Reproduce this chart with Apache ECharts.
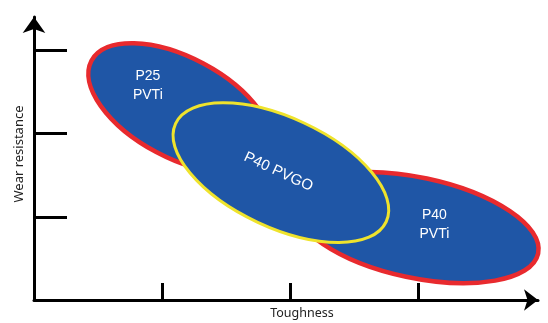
<!DOCTYPE html>
<html>
<head>
<meta charset="utf-8">
<script src="https://cdn.jsdelivr.net/npm/echarts@6.0.0/dist/echarts.min.js"></script>
<style>
  html, body { margin: 0; padding: 0; background: #fff; }
  #chart { width: 548px; height: 323px; }
</style>
</head>
<body>
<div id="chart"></div>
<script>
// grades drawn as ellipses (toughness on x, wear resistance on y)
const grades = ['P25\nPVTi', 'P40\nPVTi', 'P40 PVGO'];
const centerToughness = [1.14, 2.99, 1.93];
const centerWear = [2.31, 0.87, 1.53];
const spreadMajor = [0.80, 0.99, 0.92]; // half length, in toughness units
const spreadMinor = [0.41, 0.41, 0.44];
const tiltDeg = [28, 12, 25];
const labelToughness = [0.89, 3.13, 1.91];
const labelWear = [2.58, 0.90, 1.54];
const tickValues = [1, 2, 3];

const data = grades.map((g, i) => [
  centerToughness[i], centerWear[i], spreadMajor[i], spreadMinor[i],
  tiltDeg[i], labelToughness[i], labelWear[i]
]);

function renderItem(params, api) {
  const i = params.dataIndex;
  const c = api.coord([api.value(0), api.value(1)]);
  const unit = api.size([1, 0])[0];
  const rot = -api.value(4) * Math.PI / 180;
  const isGo = i === 2;
  const lw = isGo ? 3 : 4.5;
  const lp = api.coord([api.value(5), api.value(6)]);
  return {
    type: 'group',
    children: [
      {
        type: 'ellipse',
        x: c[0], y: c[1], rotation: rot,
        shape: { cx: 0, cy: 0, rx: api.value(2) * unit - lw / 2, ry: api.value(3) * unit - lw / 2 },
        style: { fill: '#1f56a6', stroke: isGo ? '#efe32c' : '#e82a2e', lineWidth: lw }
      },
      {
        type: 'text',
        x: lp[0], y: lp[1], rotation: isGo ? rot : 0,
        style: {
          text: grades[i], fill: '#fff', align: 'center', verticalAlign: 'middle',
          font: (isGo ? '15px' : '14px') + ' "Liberation Sans", Arial, sans-serif',
          lineHeight: 19
        }
      }
    ]
  };
}

const chart = echarts.init(document.getElementById('chart'));
chart.setOption({
  animation: false,
  grid: { left: 34, right: 10, top: 17, bottom: 23, outerBoundsMode: 'none' },
  xAxis: {
    type: 'value', min: 0, max: 3.94, interval: 1,
    name: 'Toughness', nameLocation: 'middle', nameGap: 7,
    nameTextStyle: { color: '#222', fontSize: 12.5, fontFamily: 'Noto Sans', verticalAlign: 'top', padding: [0, 0, 0, 32] },
    axisLine: { lineStyle: { color: '#000', width: 3 }, symbol: ['none', 'arrow'], symbolSize: [16, 14] },
    axisTick: { inside: true, length: 17, customValues: tickValues, lineStyle: { color: '#000', width: 3 } },
    axisLabel: { show: false },
    splitLine: { show: false }
  },
  yAxis: {
    type: 'value', min: 0, max: 3.4, interval: 1,
    name: 'Wear resistance', nameLocation: 'middle', nameGap: 8,
    nameTextStyle: { color: '#222', fontSize: 13, fontFamily: 'Noto Sans', padding: [0, 0, 0, 9] },
    axisLine: { lineStyle: { color: '#000', width: 3 }, symbol: ['none', 'arrow'], symbolSize: [17, 16] },
    axisTick: { inside: true, length: 33, customValues: tickValues, lineStyle: { color: '#000', width: 3 } },
    axisLabel: { show: false },
    splitLine: { show: false }
  },
  series: [{
    type: 'custom',
    renderItem: renderItem,
    encode: { x: 0, y: 1 },
    clip: false,
    data: data
  }]
});
</script>
</body>
</html>
